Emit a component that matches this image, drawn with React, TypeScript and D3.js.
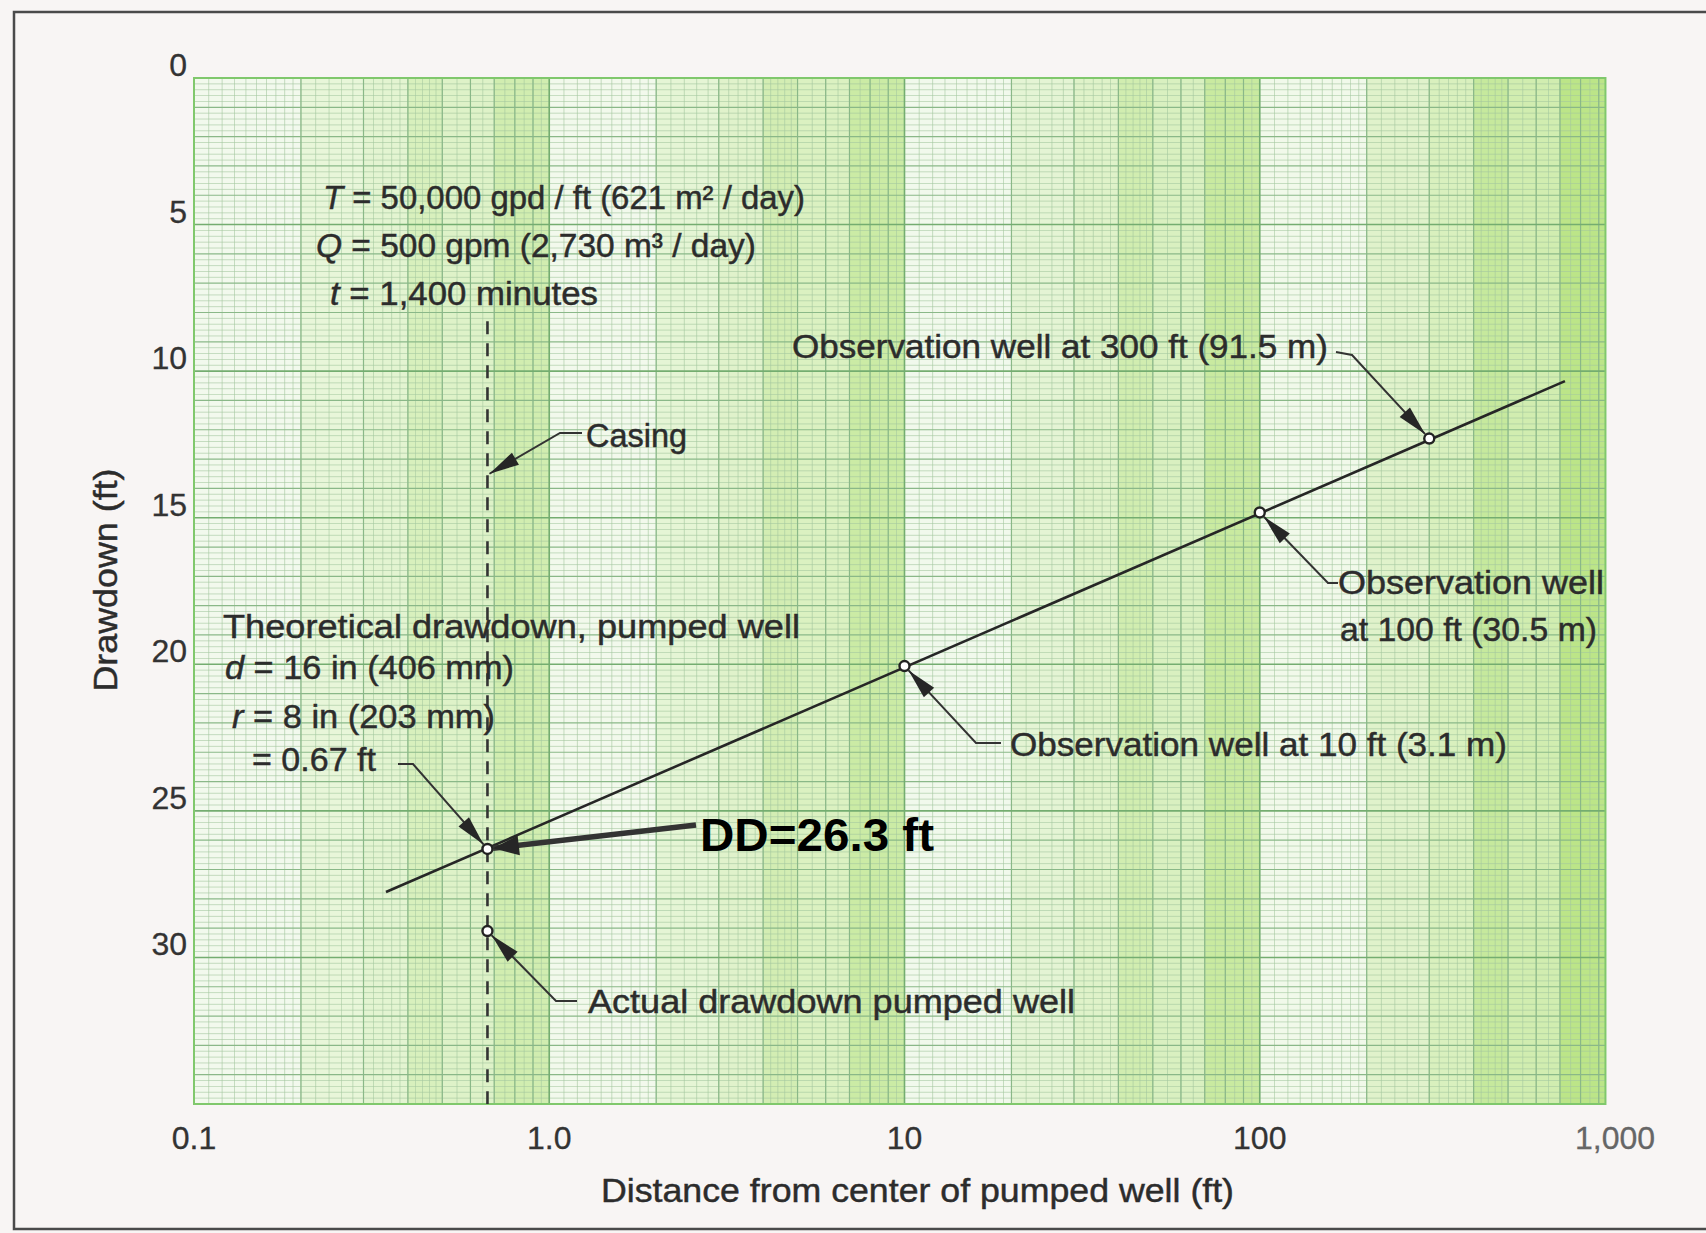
import React from "react";
import * as d3 from "d3";

// ---------- data ----------
const xTickValues = [0.1, 1, 10, 100, 1000];
const xTickLabels = ["0.1", "1.0", "10", "100", "1,000"];
const yTickValues = [0, 5, 10, 15, 20, 25, 30];
const obsDistances = [10, 100, 300]; // ft
const obsDrawdowns = [20.06, 14.82, 12.3]; // ft
const lineDistances = [0.347, 723];
const lineDrawdowns = [27.77, 10.34];
const wellRadiusFt = 0.67;
const theoreticalDD = 26.3;
const actualDD = 29.1;
const casingTopDD = 8.3;
const casingArrowDD = 13.5;

// graph-paper band tint within each decade: [from, to, strength]
const bandPattern: [number, number, number][] = [
  [1, 2, 0.03],
  [2, 3, 0.22],
  [3, 4, 0.3],
  [4, 5, 0.5],
  [5, 7, 0.38],
  [7, 10, 0.62],
];
const decadeStarts = [0.1, 1, 10, 100];
const decadeBoost = [0.8, 0.95, 1.0, 1.3];

const W = 1706;
const H = 1233;
const FONT = "'Liberation Sans', Arial, Helvetica, sans-serif";
const TXT = "#2c2c2c";

const x = d3.scaleLog().domain([0.1, 1000]).range([194, 1615]);
const y = d3.scaleLinear().domain([0, 35]).range([78, 1104]);
const gridMaxX = 940; // paper ends a little before 1,000
const plotL = x(0.1);
const plotR = x(gridMaxX);
const plotT = y(0);
const plotB = y(35);

function arrowPts(fx: number, fy: number, tx: number, ty: number, len: number, half: number) {
  const dx = tx - fx, dy = ty - fy;
  const L = Math.hypot(dx, dy);
  const ux = dx / L, uy = dy / L;
  const bx = tx - ux * len, by = ty - uy * len;
  return `${tx},${ty} ${bx - uy * half},${by + ux * half} ${bx + uy * half},${by - ux * half}`;
}

function Leader({ pts, tip, len = 30, half = 7, width = 2 }: { pts: [number, number][]; tip: [number, number]; len?: number; half?: number; width?: number }) {
  const last = pts[pts.length - 1];
  const all = [...pts, tip];
  const d = d3.line()(all as [number, number][]) || "";
  return (
    <g>
      <path d={d} fill="none" stroke="#333" strokeWidth={width} />
      <polygon points={arrowPts(last[0], last[1], tip[0], tip[1], len, half)} fill="#262626" />
    </g>
  );
}

function tipToward(px: number, py: number, fx: number, fy: number, off: number): [number, number] {
  const dx = fx - px, dy = fy - py;
  const L = Math.hypot(dx, dy);
  return [px + (dx / L) * off, py + (dy / L) * off];
}

export default function App() {
  const vFine: number[] = [];
  const vMid: number[] = [];
  const vMajor: number[] = [];
  decadeStarts.forEach((d) => {
    for (let m = 1; m < 2; m += 0.1) vFine.push(m * d);
    for (let m = 2; m < 5; m += 0.2) vFine.push(m * d);
    for (let m = 5; m < 10; m += 0.5) vFine.push(m * d);
    for (let m = 2; m < 10; m++) vMid.push(m * d);
    vMajor.push(d);
  });
  const hFine: number[] = [];
  const hMid: number[] = [];
  const hMajor: number[] = [];
  for (let i = 0; i <= 175; i++) {
    const v = i * 0.2;
    if (i % 25 === 0) hMajor.push(v);
    else if (i % 5 === 0) hMid.push(v);
    else hFine.push(v);
  }
  const inX = (v: number) => v >= 0.1 && v <= gridMaxX;

  const obsPts = obsDistances.map((dist, i) => [x(dist), y(obsDrawdowns[i])] as [number, number]);
  const theo: [number, number] = [x(wellRadiusFt), y(theoreticalDD)];
  const act: [number, number] = [x(wellRadiusFt), y(actualDD)];
  const regLine = d3.line()(lineDistances.map((dd, i) => [x(dd), y(lineDrawdowns[i])] as [number, number])) || "";

  const R = 5;

  const e300: [number, number][] = [[1336, 352], [1352, 355]];
  const e100: [number, number][] = [[1338, 583], [1328, 583]];
  const e10: [number, number][] = [[1001, 743], [976, 743]];
  const eTheo: [number, number][] = [[398, 764], [413, 764]];
  const eAct: [number, number][] = [[577, 1001], [556, 1001]];
  const eCas: [number, number][] = [[582, 433], [560, 433]];

  const ts = (w: number, size = 33) => ({
    fontFamily: FONT,
    fontSize: size,
    fill: TXT,
    stroke: TXT,
    strokeWidth: 0.45,
    textLength: w,
    lengthAdjust: "spacingAndGlyphs" as const,
  });

  return (
    <svg width={W} height={H} style={{ position: "absolute", left: 0, top: 0, background: "#f8f5f4" }}>
      <rect x={0} y={0} width={W} height={H} fill="#f8f5f4" />
      <rect x={14} y={12} width={W + 20} height={1217} fill="none" stroke="#4a4a4a" strokeWidth={2.5} />

      {/* plot paper */}
      <rect x={plotL} y={plotT} width={plotR - plotL} height={plotB - plotT} fill="#f4faf0" />
      {decadeStarts.map((d, di) =>
        bandPattern.map(([a, b, s], bi) => {
          const x0 = x(a * d);
          const x1 = Math.min(x(b * d), plotR);
          if (x1 <= x0) return null;
          return (
            <rect key={`b${di}-${bi}`} x={x0} y={plotT} width={x1 - x0} height={plotB - plotT}
              fill="#aee070" opacity={Math.min(0.85, s * decadeBoost[di])} />
          );
        })
      )}
      <g>
        {hFine.map((v) => (
          <line key={`hf${v}`} x1={plotL} x2={plotR} y1={y(v)} y2={y(v)} stroke="#a4c8a0" strokeWidth={0.8} opacity={0.75} />
        ))}
        {vFine.filter(inX).map((v, i) => (
          <line key={`vf${i}`} x1={x(v)} x2={x(v)} y1={plotT} y2={plotB} stroke="#a4c8a0" strokeWidth={0.8} opacity={0.75} />
        ))}
        {hMid.map((v) => (
          <line key={`hm${v}`} x1={plotL} x2={plotR} y1={y(v)} y2={y(v)} stroke="#8ab888" strokeWidth={1.2} />
        ))}
        {vMid.filter(inX).map((v, i) => (
          <line key={`vm${i}`} x1={x(v)} x2={x(v)} y1={plotT} y2={plotB} stroke="#8ab888" strokeWidth={1.2} />
        ))}
        {hMajor.map((v) => (
          <line key={`hM${v}`} x1={plotL} x2={plotR} y1={y(v)} y2={y(v)} stroke="#74ad70" strokeWidth={1.6} />
        ))}
        {vMajor.filter(inX).map((v, i) => (
          <line key={`vM${i}`} x1={x(v)} x2={x(v)} y1={plotT} y2={plotB} stroke="#74ad70" strokeWidth={1.6} />
        ))}
        <rect x={plotL} y={plotT} width={plotR - plotL} height={plotB - plotT} fill="none" stroke="#80c86c" strokeWidth={2} />
      </g>

      {/* axes labels */}
      {yTickValues.map((v) => (
        <text key={`yt${v}`} x={187} y={y(v) - 2} textAnchor="end" fontFamily={FONT} fontSize={32} fill="#333" stroke="#333" strokeWidth={0.3}>{v}</text>
      ))}
      {xTickValues.map((v, i) => (
        <text key={`xt${v}`} x={x(v)} y={1149} textAnchor="middle" fontFamily={FONT} fontSize={32} fill={i === 4 ? "#666" : "#333"} stroke={i === 4 ? "#666" : "#333"} strokeWidth={0.3}>{xTickLabels[i]}</text>
      ))}
      <text transform="translate(117,580) rotate(-90)" textAnchor="middle" {...ts(223)}>Drawdown (ft)</text>
      <text x={601} y={1202} {...ts(633)}>Distance from center of pumped well (ft)</text>

      {/* casing dashed line */}
      <line x1={x(wellRadiusFt)} x2={x(wellRadiusFt)} y1={y(casingTopDD)} y2={plotB} stroke="#333" strokeWidth={2.6} strokeDasharray="13 9" />

      {/* regression line */}
      <path d={regLine} fill="none" stroke="#262626" strokeWidth={2.6} />

      {/* annotation text */}
      <text x={323} y={209} {...ts(482)}><tspan fontStyle="italic">T</tspan> = 50,000 gpd / ft (621 m² / day)</text>
      <text x={316} y={257} {...ts(440)}><tspan fontStyle="italic">Q</tspan> = 500 gpm (2,730 m³ / day)</text>
      <text x={330} y={305} {...ts(268)}><tspan fontStyle="italic">t</tspan> = 1,400 minutes</text>
      <text x={792} y={358} {...ts(536)}>Observation well at 300 ft (91.5 m)</text>
      <text x={586} y={447} {...ts(101)}>Casing</text>
      <text x={1338} y={594} {...ts(266)}>Observation well</text>
      <text x={1340} y={641} {...ts(257)}>at 100 ft (30.5 m)</text>
      <text x={223} y={638} {...ts(577)}>Theoretical drawdown, pumped well</text>
      <text x={225} y={679} {...ts(289)}><tspan fontStyle="italic">d</tspan> = 16 in (406 mm)</text>
      <text x={232} y={728} {...ts(263)}><tspan fontStyle="italic">r</tspan> = 8 in (203 mm)</text>
      <text x={252} y={771} {...ts(124)}>= 0.67 ft</text>
      <text x={1010} y={756} {...ts(497)}>Observation well at 10 ft (3.1 m)</text>
      <text x={588} y={1013} {...ts(487)}>Actual drawdown pumped well</text>

      {/* leaders */}
      <Leader pts={e300} tip={tipToward(obsPts[2][0], obsPts[2][1], e300[1][0], e300[1][1], R + 1)} />
      <Leader pts={e100} tip={tipToward(obsPts[1][0], obsPts[1][1], e100[1][0], e100[1][1], R + 1)} />
      <Leader pts={e10} tip={tipToward(obsPts[0][0], obsPts[0][1], e10[1][0], e10[1][1], R + 1)} />
      <Leader pts={eTheo} tip={tipToward(theo[0], theo[1], eTheo[1][0], eTheo[1][1], R + 1)} />
      <Leader pts={eAct} tip={tipToward(act[0], act[1], eAct[1][0], eAct[1][1], R + 1)} />
      <Leader pts={eCas} tip={[x(wellRadiusFt) + 2, y(casingArrowDD)]} />

      {/* points */}
      {obsPts.map((p, i) => (
        <circle key={`o${i}`} cx={p[0]} cy={p[1]} r={R} fill="#fff" stroke="#222" strokeWidth={2.4} />
      ))}
      <circle cx={theo[0]} cy={theo[1]} r={R} fill="#fff" stroke="#222" strokeWidth={2.4} />
      <circle cx={act[0]} cy={act[1]} r={R} fill="#fff" stroke="#222" strokeWidth={2.4} />

      {/* DD callout */}
      <Leader pts={[[696, 825]]} tip={tipToward(theo[0], theo[1], 696, 825, R + 0.5)} len={26} half={10} width={5.5} />
      <text x={700} y={851} fontFamily={FONT} fontSize={46} fontWeight="bold" fill="#000" textLength={234} lengthAdjust="spacingAndGlyphs">DD=26.3 ft</text>
    </svg>
  );
}
